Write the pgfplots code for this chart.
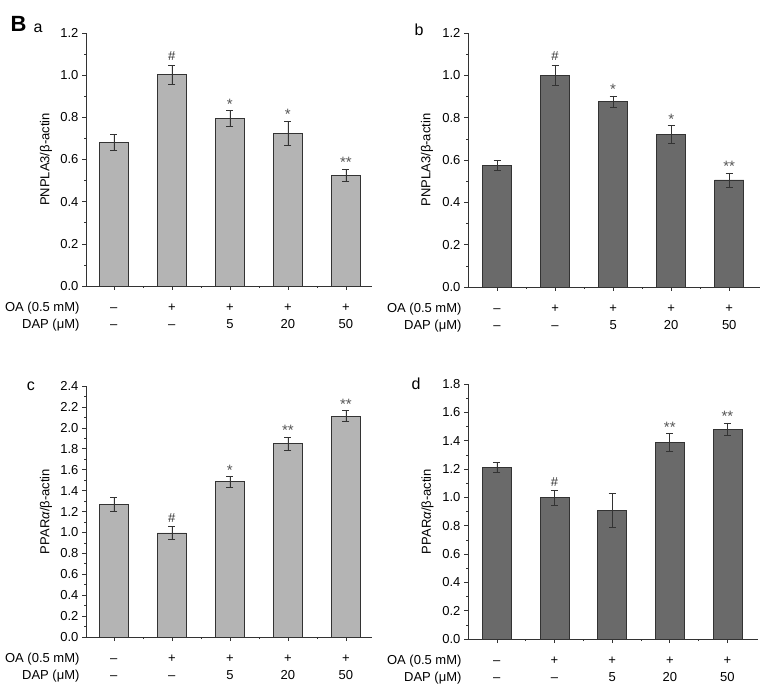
\documentclass[border=0pt]{standalone}
\usepackage{pgfplots}
\pgfplotsset{compat=1.18}
\usepackage{pgfplotstable}
\usepackage{fontspec}
\setmainfont{Liberation Sans}
\definecolor{lightbar}{HTML}{B4B4B4}
\definecolor{darkbar}{HTML}{6A6A6A}
\definecolor{edge}{HTML}{333333}
\definecolor{star}{HTML}{555555}
\pgfplotstableread{
x y e
0 0.682 0.038
1 1.002 0.046
2 0.794 0.037
3 0.724 0.059
4 0.526 0.028
}\dataA
\pgfplotstableread{
x y e
0 0.575 0.022
1 1.000 0.049
2 0.876 0.027
3 0.720 0.042
4 0.506 0.033
}\dataB
\pgfplotstableread{
x y e
0 1.270 0.064
1 0.996 0.060
2 1.484 0.050
3 1.848 0.065
4 2.113 0.050
}\dataC
\pgfplotstableread{
x y e
0 1.213 0.034
1 0.997 0.053
2 0.910 0.118
3 1.390 0.062
4 1.482 0.043
}\dataD
\newcommand{\tickfont}{\fontsize{13}{16.6}\selectfont}
\newcommand{\tl}[2]{\strut #1\\\strut #2}
\pgfplotsset{
 panel/.style={
  scale only axis,
  axis x line*=bottom, axis y line*=left,
  axis line style={edge, line width=0.7pt},
  tick align=outside, tick style={edge, line width=0.6pt},
  major tick length=4pt, minor tick length=2pt,
  ymin=0,
  xtick={0,...,4}, minor xtick={0.5,1.5,2.5,3.5},
  xticklabels={{\tl{–}{–}},{\tl{+}{–}},{\tl{+}{5}},{\tl{+}{20}},{\tl{+}{50}}},
  xticklabel style={align=center, font=\tickfont, yshift=-6.5pt},
  yticklabel style={font=\tickfont},
  /pgf/number format/.cd, fixed, fixed zerofill, precision=1, assume math mode=true, /pgfplots/.cd,
  minor y tick num=1,
  clip=false,
  ylabel style={at={(axis description cs:-0.14,0.5)}, anchor=center, font=\tickfont},
 },
 mybars/.style={ybar, bar width=0.5, draw=edge, line width=0.6pt, fill=#1,
   error bars/.cd, y dir=both, y explicit,
   error bar style={edge, line width=0.6pt},
   error mark options={rotate=90, edge, mark size=3.5pt, line width=0.6pt}},
}
\tikzset{
 hashnote/.style={anchor=south, inner sep=1pt, yshift=3pt, font=\fontsize{13}{15}\selectfont, text=edge},
 starnote/.style={anchor=south, inner sep=1pt, font=\fontsize{15}{17}\selectfont, text=star},
}
\newcommand{\rowlabels}{%
  \node[anchor=base east, font=\tickfont, xshift=-3pt, yshift=-25.7pt] at (rel axis cs:0,0) {OA (0.5 mM)};
  \node[anchor=base east, font=\tickfont, xshift=-3pt, yshift=-42.3pt] at (rel axis cs:0,0) {DAP (μM)};
}
\begin{document}
\begin{tikzpicture}
\useasboundingbox (0,0) rectangle (765pt,688pt);
% panel a
\begin{axis}[panel, at={(86pt,402pt)}, anchor=south west, width=286pt, height=253pt,
  xmin=-0.48, xmax=4.45, ymax=1.2, ytick={0,0.2,...,1.21},
  ylabel={PNPLA3/β-actin}]
\addplot[mybars=lightbar] table[x=x, y=y, y error=e]{\dataA};
\node[hashnote] at (axis cs:1,1.048) {\#};
\node[starnote] at (axis cs:2,0.831) {*};
\node[starnote] at (axis cs:3,0.783) {*};
\node[starnote] at (axis cs:4,0.554) {**};
\rowlabels
\end{axis}
% panel b
\begin{axis}[panel, at={(468pt,401pt)}, anchor=south west, width=292pt, height=254pt,
  xmin=-0.5, xmax=4.53, ymax=1.2, ytick={0,0.2,...,1.21},
  ylabel={PNPLA3/β-actin}]
\addplot[mybars=darkbar] table[x=x, y=y, y error=e]{\dataB};
\node[hashnote] at (axis cs:1,1.049) {\#};
\node[starnote] at (axis cs:2,0.903) {*};
\node[starnote] at (axis cs:3,0.762) {*};
\node[starnote] at (axis cs:4,0.539) {**};
\rowlabels
\end{axis}
% panel c
\begin{axis}[panel, at={(86pt,51pt)}, anchor=south west, width=286pt, height=251pt,
  xmin=-0.48, xmax=4.45, ymax=2.4, ytick={0,0.2,...,2.41},
  ylabel={PPAR\textit{α}/β-actin}]
\addplot[mybars=lightbar] table[x=x, y=y, y error=e]{\dataC};
\node[hashnote] at (axis cs:1,1.056) {\#};
\node[starnote] at (axis cs:2,1.534) {*};
\node[starnote] at (axis cs:3,1.913) {**};
\node[starnote] at (axis cs:4,2.163) {**};
\rowlabels
\end{axis}
% panel d
\begin{axis}[panel, at={(468pt,49pt)}, anchor=south west, width=290pt, height=255pt,
  xmin=-0.5, xmax=4.53, ymax=1.8, ytick={0,0.2,...,1.81},
  ylabel={PPAR\textit{α}/β-actin}]
\addplot[mybars=darkbar] table[x=x, y=y, y error=e]{\dataD};
\node[hashnote] at (axis cs:1,1.050) {\#};
\node[starnote] at (axis cs:3,1.452) {**};
\node[starnote] at (axis cs:4,1.525) {**};
\rowlabels
\end{axis}
% panel letters
\node[anchor=base west, font=\fontsize{22}{26}\selectfont\bfseries] at (7pt,656pt) {B};
\node[anchor=base, font=\fontsize{16}{18}\selectfont] at (38pt,655pt) {a};
\node[anchor=base, font=\fontsize{16}{18}\selectfont] at (419pt,652pt) {b};
\node[anchor=base, font=\fontsize{16}{18}\selectfont] at (31pt,297pt) {c};
\node[anchor=base, font=\fontsize{16}{18}\selectfont] at (416pt,298pt) {d};
\end{tikzpicture}
\end{document}
